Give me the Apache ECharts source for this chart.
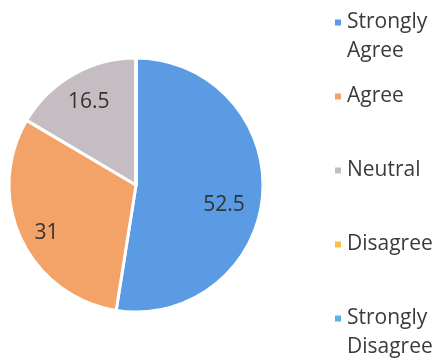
<!DOCTYPE html>
<html>
<head>
<meta charset="utf-8">
<script src="https://cdn.jsdelivr.net/npm/echarts@6/dist/echarts.min.js"></script>
<style>
  html, body { margin: 0; padding: 0; background: #ffffff; }
  #chart { width: 436px; height: 361px; }
</style>
</head>
<body>
<div id="chart"></div>
<script>
// Survey responses (percent)
const categories = ['Strongly Agree', 'Agree', 'Neutral', 'Disagree', 'Strongly Disagree'];
const values = [52.5, 31, 16.5, 0, 0];
const colors = ['#5a9be4', '#f3a268', '#c6bdc2', '#f5c343', '#5eb0e8'];

// Pie geometry (pixels)
const CX = 136, CY = 185, R = 127;
// Where each value label sits: fraction of radius and an angular nudge (degrees)
const labelRadius = [0.71, 0.80, 0.75, 0.6, 0.6];
const labelNudge = [-8, 3, 0, 0, 0];

const total = values.reduce((a, b) => a + b, 0);

function labelPoint(i) {
  let before = 0;
  for (let k = 0; k < i; k++) before += values[k];
  const startDeg = 90 - before / total * 360;
  const midDeg = startDeg - values[i] / total * 180 + labelNudge[i];
  const a = midDeg * Math.PI / 180;
  const r = R * labelRadius[i];
  return { x: CX + r * Math.cos(a), y: CY - r * Math.sin(a) };
}

const chart = echarts.init(document.getElementById('chart'), null, { renderer: 'canvas' });

chart.setOption({
  backgroundColor: '#ffffff',
  animation: false,
  color: colors,
  legend: {
    orient: 'vertical',
    left: 333,
    top: -21,
    height: 420,
    padding: 0,
    itemGap: -13,
    itemWidth: 8,
    itemHeight: 8,
    icon: 'rect',
    data: categories,
    // three-line block: blank line, then the name split over two lines,
    // so the marker lines up with the first word
    formatter: function (name) {
      const parts = name.split(' ');
      const second = parts.length > 1 ? parts.slice(1).join(' ') : ' ';
      return ' \n' + parts[0] + '\n' + second;
    },
    textStyle: {
      fontFamily: 'Open Sans',
      fontSize: 21,
      color: '#3b3b3b',
      lineHeight: 29
    }
  },
  series: [{
    type: 'pie',
    center: [CX, CY],
    radius: R,
    startAngle: 90,
    clockwise: true,
    stillShowZeroSum: false,
    itemStyle: { borderColor: '#ffffff', borderWidth: 3 },
    label: {
      show: true,
      position: 'inside',
      fontFamily: 'Open Sans',
      fontSize: 21,
      color: '#333333',
      formatter: '{c}'
    },
    labelLine: { show: false },
    labelLayout: function (params) {
      const p = labelPoint(params.dataIndex);
      return { x: p.x, y: p.y, align: 'center', verticalAlign: 'middle' };
    },
    emphasis: { disabled: true },
    data: categories.map((name, i) => ({
      name: name,
      value: values[i],
      label: { show: values[i] > 0 }
    }))
  }]
});
</script>
</body>
</html>
